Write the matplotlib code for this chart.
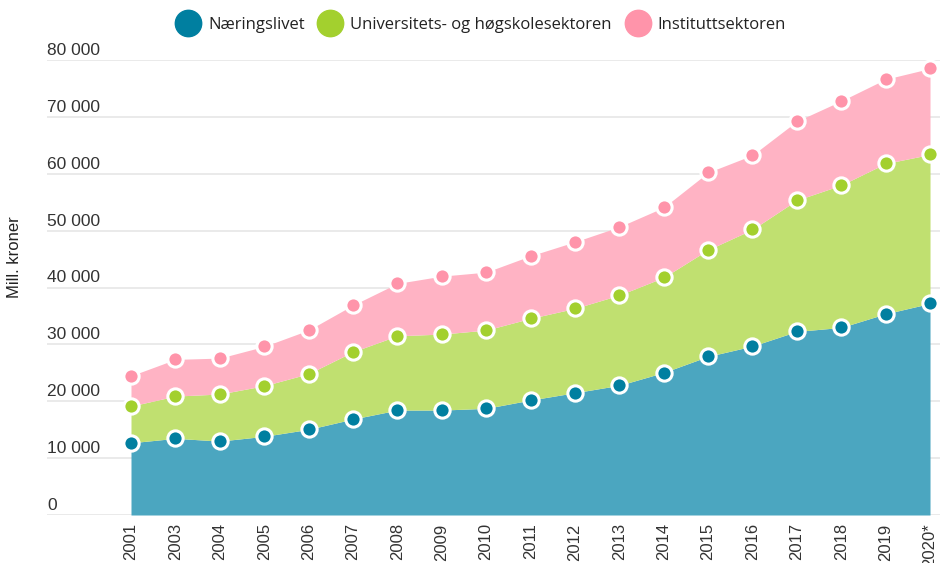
import matplotlib
matplotlib.use("Agg")
import matplotlib.pyplot as plt
from matplotlib.lines import Line2D
import matplotlib.transforms as mtransforms
import numpy as np

years = ["2001", "2003", "2004", "2005", "2006", "2007", "2008", "2009", "2010", "2011",
         "2012", "2013", "2014", "2015", "2016", "2017", "2018", "2019", "2020*"]

naeringslivet = [12700, 13480, 13000, 13830, 15060, 16870, 18450, 18450, 18750, 20210,
                 21500, 22800, 25050, 27890, 29700, 32280, 32980, 35380, 37200]
uh_sektoren = [6450, 7430, 8270, 8900, 9780, 11830, 13060, 13360, 13760, 14360,
               14830, 15860, 16720, 18740, 20510, 23080, 25020, 26430, 26190]
instituttsektoren = [5330, 6450, 6320, 6910, 7670, 8200, 9210, 10190, 10190, 11000,
                     11700, 12010, 12310, 13600, 13060, 13880, 14810, 14820, 15120]

series_names = ["Næringslivet", "Universitets- og høgskolesektoren", "Instituttsektoren"]
fill_colors = ["#4ba6c0", "#c0e070", "#ffb3c4"]
marker_colors = ["#007fa0", "#a3d02e", "#ff94aa"]

yticks = [0, 10000, 20000, 30000, 40000, 50000, 60000, 70000, 80000]
ytick_labels = ["0", "10 000", "20 000", "30 000", "40 000", "50 000", "60 000", "70 000", "80 000"]

W, H = 940, 563
fig = plt.figure(figsize=(W / 100, H / 100), dpi=100)
ax = fig.add_axes([47 / W, 1 - 515 / H, (W - 47) / W, (515 - 60) / H])

x = np.arange(len(years))
data = [np.array(naeringslivet), np.array(uh_sektoren), np.array(instituttsektoren)]
base = np.zeros(len(years))
tops = []
for vals, fc in zip(data, fill_colors):
    top = base + vals
    ax.fill_between(x, base, top, color=fc, lw=0, zorder=2)
    tops.append(top)
    base = top
for top, mc in zip(tops, marker_colors):
    ax.plot(x, top, ls="none", marker="o", ms=11, mfc=mc, mec="white", mew=2.2,
            zorder=4, clip_on=False)

step = 44.39
ax.set_xlim(-84 / step, (W - 47 - 84) / step)
ax.set_ylim(0, 80000)
for v in yticks:
    ax.axhline(v, color="#e6e6e6", lw=1.2, zorder=1)

for s in ax.spines.values():
    s.set_visible(False)
ax.set_yticks([])
ax.set_xticks(x)
ax.set_xticklabels(years, rotation=90, ha="center", va="top", fontsize=12,
                   family="Liberation Sans", color="#333333")
ax.tick_params(axis="x", length=0, pad=6)

trans = mtransforms.blended_transform_factory(ax.transAxes, ax.transData)
trans = mtransforms.offset_copy(trans, fig=fig, x=0, y=5, units="dots")
for v, lab in zip(yticks, ytick_labels):
    ax.text(0, v, lab, transform=trans, ha="left", va="baseline", fontsize=12.5,
            family="Liberation Sans", color="#333333")

fig.text(15 / W, 1 - 257 / H, "Mill. kroner", rotation=90, ha="center", va="center",
         fontsize=12, family="Liberation Sans", color="#222222")

handles = [Line2D([], [], ls="none", marker="o", ms=19, mfc=mc, mec=mc) for mc in marker_colors]
fig.legend(handles, series_names, loc="center", bbox_to_anchor=(482 / W, 1 - 25 / H), ncol=3,
           frameon=False, prop={"family": "Open Sans", "size": 12}, handletextpad=0.6,
           columnspacing=0.95, handlelength=1.2, labelcolor="#222222")

fig.savefig("out.png", dpi=100)
